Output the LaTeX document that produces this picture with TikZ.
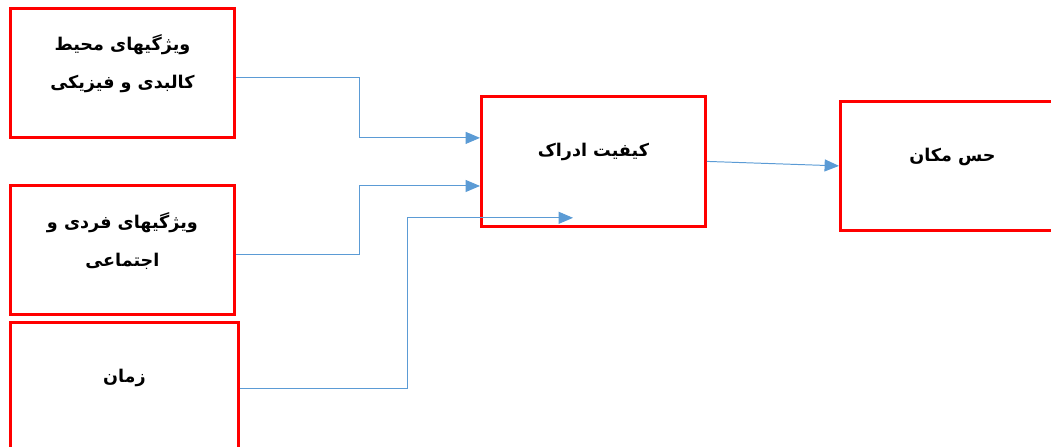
\documentclass[tikz,border=0pt]{standalone}
\usepackage{fontspec}
\newfontfamily\arabicfont[Script=Arabic]{DejaVu Sans}
\TeXXeTstate=1
\usepackage{xcolor}
\usepackage{tikz}
\usetikzlibrary{calc, arrows.meta}

\definecolor{boxred}{RGB}{255,0,0}
\definecolor{flowblue}{RGB}{91,155,213}

\tikzset{
    box/.style={rectangle, draw=boxred, line width=2pt, anchor=north west},
    lbl/.style={anchor=center, yshift=-1.42cm, align=center, font=\arabicfont\bfseries\fontsize{12.5}{27}\selectfont},
    flow/.style={draw=flowblue, line width=0.7pt, -{Triangle[length=0.36cm, width=0.3cm]}}
}

\begin{document}
\begin{tikzpicture}[label distance=0pt]

        \useasboundingbox (0,0) rectangle (26.275,-11.175);

        %% Inputs
        \node (env) [box, minimum width=5.6cm, minimum height=3.225cm, label={[lbl]north:\beginR ویژگیهای محیط\endR\\\beginR کالبدی و فیزیکی\endR}] at (0.225,-0.175) {};
        \node (soc) [box, minimum width=5.6cm, minimum height=3.225cm, label={[lbl]north:\beginR ویژگیهای فردی و\endR\\\beginR اجتماعی\endR}] at (0.225,-4.6) {};
        \node (time) [box, minimum width=5.7cm, minimum height=3.3cm, label={[lbl]north:\beginR زمان\endR}] at (0.225,-8.025) {};

        %% Perception and sense of place
        \node (qual) [box, minimum width=5.6cm, minimum height=3.25cm, label={[lbl]north:\beginR کیفیت ادراک\endR}] at (12,-2.375) {};
        \node (place) [box, minimum width=5.6cm, minimum height=3.225cm, label={[lbl]north:\beginR حس مکان\endR}] at (20.975,-2.5) {};

        \coordinate (tip) at ($(qual.south west)+(2.325,0.25)$);

        %% Arrows
        \draw [flow] ($(env.east)+(0,-0.11)$) -- ++(3.1,0) |- ($(qual.north west)!0.323!(qual.south west)$);
        \draw [flow] ($(soc.east)+(0,-0.11)$) -- ++(3.1,0) |- ($(qual.north west)!0.685!(qual.south west)$);
        \draw [flow] (time.east) -- ++(4.2,0) |- (tip);
        \draw [flow] (qual.east) -- (place.west);

\end{tikzpicture}
\end{document}
